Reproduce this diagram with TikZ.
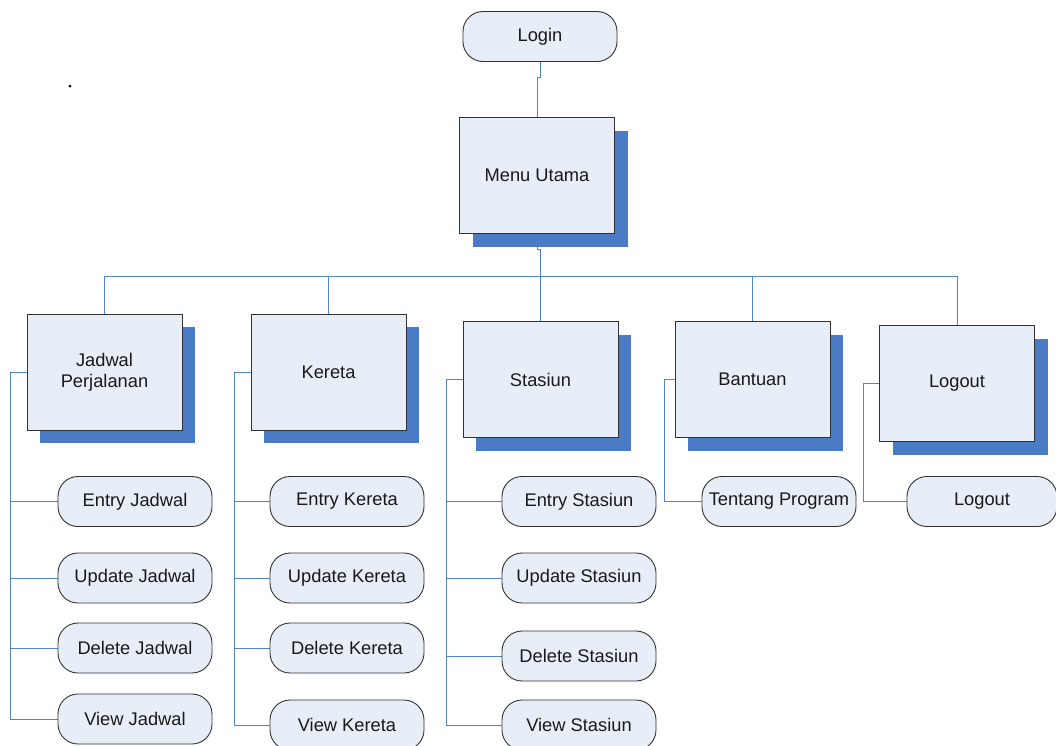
\documentclass[tikz,border=0pt]{standalone}
\usepackage{fontspec}
\setmainfont{Liberation Sans}
\usetikzlibrary{shadows,backgrounds,calc}
\definecolor{boxfill}{RGB}{232,238,248}
\definecolor{shadowblue}{RGB}{74,123,196}
\definecolor{linkblue}{RGB}{84,132,200}
\definecolor{edgegray}{RGB}{50,50,50}
\tikzset{
  lbl/.style={font=\fontsize{18.3}{22}\selectfont, text=black!90},
  menubox/.style={lbl, rectangle, draw=edgegray, line width=1pt, fill=boxfill,
    minimum width=155pt, minimum height=116pt, inner sep=0pt, align=center,
    drop shadow={shadow xshift=13pt, shadow yshift=-13pt, fill=shadowblue, opacity=1}},
  pill/.style={lbl, rectangle, rounded corners=20pt, draw=edgegray, line width=0.9pt,
    fill=boxfill, minimum width=154pt, minimum height=50pt, inner sep=0pt},
  link/.style={draw=linkblue, line width=1pt}
}
\begin{document}
\begin{tikzpicture}[x=1pt,y=-1pt]
\useasboundingbox (0,0) rectangle (1056,745);
\fill[black] (70,86) circle (1.5);

\node[pill] (login) at (540,36.5) {Login};
\node[menubox] (menu) at (537,175.5) {Menu Utama};

\node[menubox] (jadwal) at (104.5,372) {Jadwal\\[-1pt]Perjalanan};
\node[menubox] (kereta) at (328.5,372) {Kereta};
\node[menubox] (stasiun) at (540.5,379.5) {Stasiun};
\node[menubox] (bantuan) at (752.5,379.5) {Bantuan};
\node[menubox] (logout) at (957,383.5) {Logout};

\node[pill] (ej) at (135,501.5) {Entry Jadwal};
\node[pill] (uj) at (135,578) {Update Jadwal};
\node[pill] (dj) at (135,648) {Delete Jadwal};
\node[pill] (vj) at (135,719) {View Jadwal};

\node[pill] (ek) at (347,501.5) {Entry Kereta};
\node[pill] (uk) at (347,578) {Update Kereta};
\node[pill] (dk) at (347,648) {Delete Kereta};
\node[pill] (vk) at (347,725) {View Kereta};

\node[pill] (es) at (579,501.5) {Entry Stasiun};
\node[pill] (us) at (579,578) {Update Stasiun};
\node[pill] (ds) at (579,656) {Delete Stasiun};
\node[pill] (vs) at (579,725) {View Stasiun};

\node[pill] (tp) at (779,501.5) {Tentang Program};
\node[pill, minimum width=150pt] (lo) at (982,501.5) {Logout};

\coordinate (bus) at (540,276);

\begin{scope}[on background layer]
\fill[white] (0,0) rectangle (1056,745);
\draw[link] (login.south) -- ++(0,16) -| (menu.north);
\draw[link] (menu.south) -- ++(0,15) -| (bus);
\draw[link] (jadwal.north) |- (bus);
\draw[link] (kereta.north) |- (bus);
\draw[link] (stasiun.north) -- (stasiun.north |- bus);
\draw[link] (bantuan.north) |- (bus);
\draw[link] (logout.north) |- (bus);

\draw[link] (jadwal.west) -- ++(-16,0) |- (ej.west);
\draw[link] (jadwal.west) -- ++(-16,0) |- (uj.west);
\draw[link] (jadwal.west) -- ++(-16,0) |- (dj.west);
\draw[link] (jadwal.west) -- ++(-16,0) |- (vj.west);

\draw[link] (kereta.west) -- ++(-16,0) |- (ek.west);
\draw[link] (kereta.west) -- ++(-16,0) |- (uk.west);
\draw[link] (kereta.west) -- ++(-16,0) |- (dk.west);
\draw[link] (kereta.west) -- ++(-16,0) |- (vk.west);

\draw[link] (stasiun.west) -- ++(-16.5,0) |- (es.west);
\draw[link] (stasiun.west) -- ++(-16.5,0) |- (us.west);
\draw[link] (stasiun.west) -- ++(-16.5,0) |- (ds.west);
\draw[link] (stasiun.west) -- ++(-16.5,0) |- (vs.west);

\draw[link] (bantuan.west) -- ++(-10.5,0) |- (tp.west);
\draw[link] (logout.west) -- ++(-16,0) |- (lo.west);
\end{scope}
\end{tikzpicture}
\end{document}
